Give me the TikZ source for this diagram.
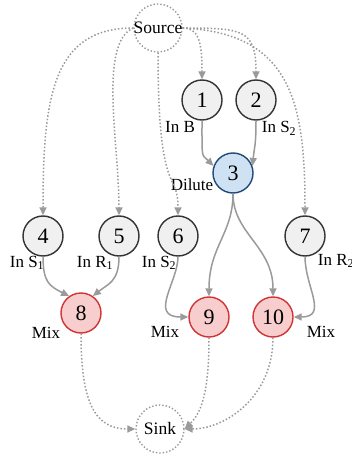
\documentclass[tikz,border=0pt]{standalone}
\usepackage{fontspec}
\setmainfont{Liberation Serif}
\usetikzlibrary{arrows.meta}

\definecolor{edgegray}{HTML}{9A9A9A}
\definecolor{dilfill}{HTML}{CFE2F3}
\definecolor{dilline}{HTML}{1F4A78}
\definecolor{mixfill}{HTML}{F8CDCD}
\definecolor{mixline}{HTML}{D03434}

\tikzset{
  every node/.style={circle,inner sep=0pt,minimum size=40pt,line width=1.4pt,
    font=\fontsize{22}{24}\selectfont},
  inp/.style={draw=black!80,fill=black!6},
  dil/.style={draw=dilline,fill=dilfill},
  mixn/.style={draw=mixline,fill=mixfill},
  ends/.style={draw=edgegray,dotted,minimum size=48pt,inner sep=-4pt,
    font=\fontsize{17.5}{20}\selectfont},
  lbl/.style={draw=none,fill=none,minimum size=0pt,anchor=base,
    font=\fontsize{17}{20}\selectfont},
  flow/.style={draw=edgegray,line width=1.5pt,-{Triangle[length=8pt,width=7pt]}},
  feed/.style={flow,dotted}
}

\begin{document}
\begin{tikzpicture}[x=1pt,y=-1pt]
      \useasboundingbox (0,0) rectangle (352,457);

      \node [ends] (src) at (158,28) {Source};
      \node [inp] (n1) at (202,100) {1};
      \node [inp] (n2) at (256,100) {2};
      \node [dil] (n3) at (233,173) {3};
      \node [inp] (n4) at (43,236) {4};
      \node [inp] (n5) at (119,236) {5};
      \node [inp] (n6) at (178,236) {6};
      \node [inp] (n7) at (305,236) {7};
      \node [mixn] (n8) at (81,313) {8};
      \node [mixn] (n9) at (209,317) {9};
      \node [mixn] (n10) at (273,317) {10};
      \node [ends] (snk) at (160,429) {Sink};

      % labels
      \node [lbl] (l1) at (180,133) {In B};
      \node [lbl] (l2) at (279,133) {In S\textsubscript{2}};
      \node [lbl] (l3) at (192,190) {Dilute};
      \node [lbl] (l4) at (27,267) {In S\textsubscript{1}};
      \node [lbl] (l5) at (95,267) {In R\textsubscript{1}};
      \node [lbl] (l6) at (159,267) {In S\textsubscript{2}};
      \node [lbl] (l7) at (336,265) {In R\textsubscript{2}};
      \node [lbl] (l8) at (46,338) {Mix};
      \node [lbl] (l9) at (165,337) {Mix};
      \node [lbl] (l10) at (321,337) {Mix};

      % from source
      \draw [feed] (src.west) .. controls +(-80,0) and +(0,-120) .. (n4.north);
      \draw [feed] (src.west) .. controls +(-35,15) and +(0,-70) .. (n5.north);
      \draw [feed] (src.south) .. controls +(0,148) and +(0,-46) .. (n6.north);
      \draw [feed] (src.east) .. controls +(15,0) and +(0,-40) .. (n1.north);
      \draw [feed] (src.east) .. controls +(60,0) and +(0,-50) .. (n2.north);
      \draw [feed] (src.east) .. controls +(110,5) and +(0,-110) .. (n7.north);

      % solid flows
      \draw [flow] (n1.south) .. controls +(0,40) and +(-12,-12) .. (n3.160);
      \draw [flow] (n2.south) .. controls +(0,25) and +(2,-20) .. (n3.20);
      \draw [flow] (n3.south) .. controls +(0,40) and +(0,-50) .. (n9.north);
      \draw [flow] (n3.south) .. controls +(0,40) and +(0,-50) .. (n10.north);
      \draw [flow] (n4.south) .. controls +(0,25) and +(-20,-10) .. (n8.125);
      \draw [flow] (n5.south) .. controls +(0,25) and +(15,-12) .. (n8.55);
      \draw [flow] (n6.south) .. controls +(0,25) and +(-40,0) .. (n9.west);
      \draw [flow] (n7.south) .. controls +(0,30) and +(35,0) .. (n10.east);

      % to sink
      \draw [feed] (n8.south) .. controls +(0,70) and +(-40,0) .. (snk.west);
      \draw [feed] (n9.south) .. controls +(0,60) and +(15,-15) .. (snk.east);
      \draw [feed] (n10.south) .. controls +(0,60) and +(40,0) .. (snk.east);
    \end{tikzpicture}
\end{document}
